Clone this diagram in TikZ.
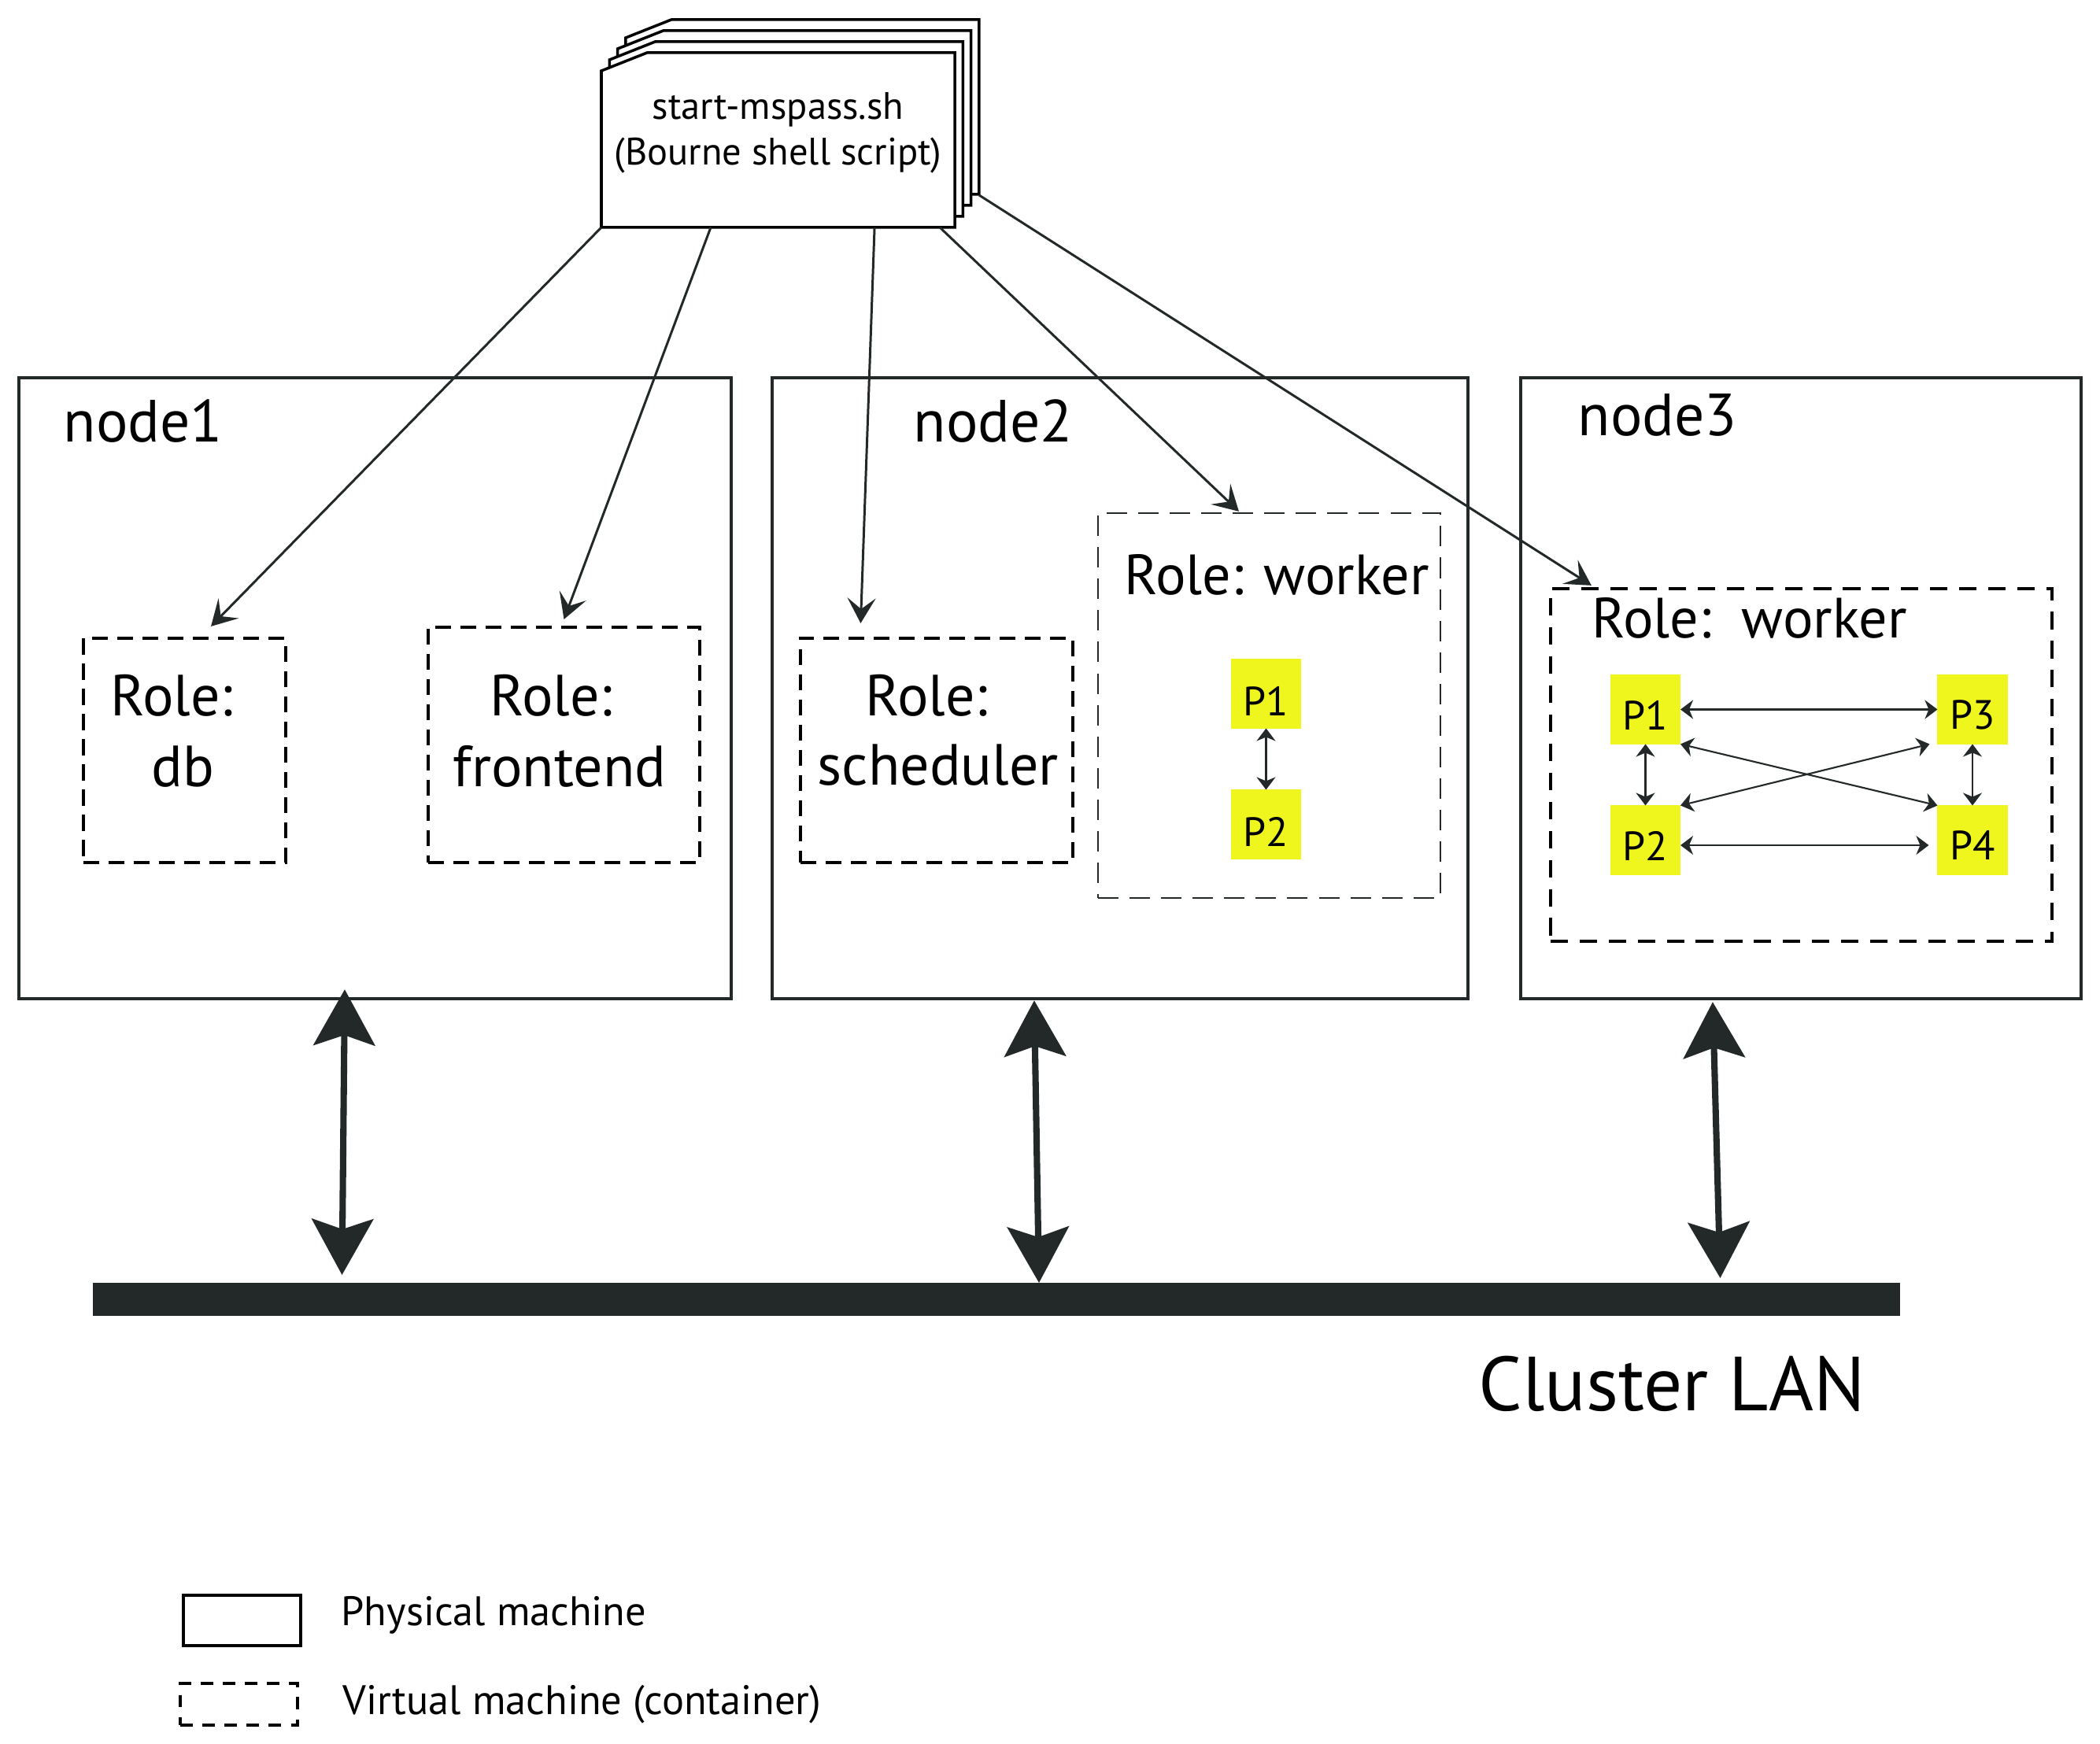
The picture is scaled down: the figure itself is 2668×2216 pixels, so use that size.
\documentclass[tikz,border=0pt]{standalone}
\usepackage{fontspec}
\setmainfont{PT Sans}
\usetikzlibrary{arrows.meta}
\definecolor{ink}{RGB}{35,40,41}
\definecolor{pyel}{RGB}{238,246,29}
\tikzset{
  physbox/.style={draw=ink, line width=1.2pt, inner sep=0pt, outer sep=0pt},
  vbox/.style={draw=black, line width=1.15pt, dash pattern=on 5.7pt off 3.4pt, inner sep=0pt, outer sep=0pt},
  vboxthin/.style={draw=ink, line width=0.75pt, dash pattern=on 7.4pt off 4pt, inner sep=0pt, outer sep=0pt},
  vboxmid/.style={draw=black, line width=1pt, dash pattern=on 6.3pt off 4.2pt, inner sep=0pt, outer sep=0pt},
  page/.style={draw=black, fill=white, line width=1pt, line join=miter},
  pbox/.style={fill=pyel, minimum width=0.89cm, minimum height=0.88cm, inner sep=0pt, outer sep=0pt},
  ptxt/.style={inner sep=0pt, font=\fontsize{14.8pt}{17pt}\selectfont},
  nlbl/.style={anchor=base west, inner sep=0pt, font=\fontsize{21.5pt}{25pt}\selectfont},
  rlbl/.style={anchor=base west, inner sep=0pt, font=\fontsize{21pt}{25pt}\selectfont},
  lgtxt/.style={anchor=base west, inner sep=0pt, font=\fontsize{14.9pt}{18pt}\selectfont},
  sarrow/.style={draw=ink, line width=0.85pt, -{Stealth[length=0.32cm, width=0.36cm, inset=0.14cm]}},
  parrow/.style={draw=ink, line width=0.6pt, {Stealth[length=0.16cm, width=0.24cm, inset=0.05cm]}-{Stealth[length=0.16cm, width=0.24cm, inset=0.05cm]}},
  barrow/.style={draw=ink, line width=2.3pt, {Stealth[length=0.71cm, width=0.78cm, inset=0.13cm]}-{Stealth[length=0.71cm, width=0.78cm, inset=0.13cm]}}
}
\begin{document}
\begin{tikzpicture}[x=0.01cm, y=-0.01cm]
\useasboundingbox (0,0) rectangle (2668,2216);
\fill[white] (0,0) rectangle (2668,2216);

% script stack
\foreach \k in {3,2,1} {
  \draw[page, shift={({10.3*\k},{-14*\k})}] (764,90) -- (822,67) -- (1213,67) -- (1213,289) -- (764,289) -- cycle;
}
\draw[page] (764,90) -- (822,67) -- (1213,67) -- (1213,289) -- (764,289) -- cycle;
\node[minimum width=4.49cm, minimum height=2.22cm, inner sep=0pt, outer sep=0pt] (script) at (988.5,178) {};
\node[align=center, inner sep=0pt, font=\fontsize{13.8pt}{16.5pt}\selectfont] (scripttxt) at (988.5,169) {start-mspass.sh\\(Bourne shell script)};
\coordinate (pg4) at (1244,248);

% physical machines
\node[physbox, minimum width=9.045cm, minimum height=7.89cm] (n1) at (476.75,874.5) {};
\node[physbox, minimum width=8.84cm, minimum height=7.89cm] (n2) at (1423,874.5) {};
\node[physbox, minimum width=7.12cm, minimum height=7.89cm] (n3) at (2288,874.5) {};
\node[nlbl] (t1) at (80,562) {node1};
\node[nlbl] (t2) at (1160,562) {node2};
\node[nlbl] (t3) at (2004,554) {node3};

% containers
\node[vbox, minimum width=2.57cm, minimum height=2.85cm] (db) at (234.5,953.5) {};
\node[vbox, minimum width=3.45cm, minimum height=2.99cm] (fe) at (716.5,946.5) {};
\node[vbox, minimum width=3.46cm, minimum height=2.85cm] (sch) at (1190,953.5) {};
\node[vboxthin, minimum width=4.35cm, minimum height=4.89cm] (w2) at (1612.5,896.5) {};
\node[vboxmid, minimum width=6.37cm, minimum height=4.48cm] (w3) at (2288.5,972) {};

\node[rlbl] (dbr) at (140,910) {Role:};
\node[rlbl] (dbn) at (192,1000) {db};
\node[rlbl] (fer) at (622,910) {Role:};
\node[rlbl] (fen) at (575,1000) {frontend};
\node[rlbl] (schr) at (1099,910) {Role:};
\node[rlbl] (schn) at (1038,998) {scheduler};
\node[rlbl, font=\fontsize{20.5pt}{24pt}\selectfont] (w2r) at (1428,756) {Role: worker};
\node[rlbl, font=\fontsize{20.5pt}{24pt}\selectfont] (w3r) at (2022,811) {Role:\ \ worker};

% processes
\node[pbox] (a1) at (1608.5,881.5) {};
\node[pbox] (a2) at (1608.5,1047.5) {};
\node[pbox] (b1) at (2090.5,901.5) {};
\node[pbox] (b3) at (2506,901.5) {};
\node[pbox] (b2) at (2090.5,1067.5) {};
\node[pbox] (b4) at (2506,1067.5) {};
\node[ptxt] (a1t) at ([yshift=-0.09cm]a1.center) {P1};
\node[ptxt] (a2t) at ([yshift=-0.09cm]a2.center) {P2};
\node[ptxt] (b1t) at ([yshift=-0.07cm]b1.center) {P1};
\node[ptxt] (b3t) at ([yshift=-0.07cm]b3.center) {P3};
\node[ptxt] (b2t) at ([yshift=-0.07cm]b2.center) {P2};
\node[ptxt] (b4t) at ([yshift=-0.07cm]b4.center) {P4};

\draw[parrow] (a1.south) -- (a2.north);
\draw[parrow] (b1.east) -- (b3.west);
\draw[parrow] ([yshift=-0.065cm]b2.east) -- ([yshift=-0.065cm, xshift=-0.11cm]b4.west);
\draw[parrow] (b1.south) -- (b2.north);
\draw[parrow] (b3.south) -- (b4.north);
\draw[parrow] (b1.south east) -- (b4.north west);
\draw[parrow] (b2.north east) -- ([xshift=-0.10cm]b3.south west);

% script arrows
\draw[sarrow] (script.south west) -- ([xshift=0.335cm, yshift=0.15cm]db.north);
\draw[sarrow] ([xshift=1.39cm]script.south west) -- ([yshift=0.10cm]fe.north);
\draw[sarrow] ([xshift=1.225cm]script.south) -- ([xshift=-0.965cm, yshift=0.19cm]sch.north);
\draw[sarrow] ([xshift=-0.19cm]script.south east) -- ([xshift=-0.385cm, yshift=0.02cm]w2.north);
\draw[sarrow] (pg4) -- ([xshift=0.52cm, yshift=0.04cm]w3.north west);

% LAN
\node[fill=ink, minimum width=22.94cm, minimum height=0.42cm, inner sep=0pt, outer sep=0pt] (lan) at (1266,1651) {};
\node[anchor=base west, inner sep=0pt, font=\fontsize{27.7pt}{33pt}\selectfont] (lantxt) at (1878,1793) {Cluster LAN};
\draw[barrow] ([xshift=-0.3875cm, yshift=0.12cm]n1.south) -- ([xshift=-8.31cm, yshift=0.10cm]lan.north);
\draw[barrow] ([xshift=-1.09cm, yshift=-0.02cm]n2.south) -- ([xshift=0.54cm]lan.north);
\draw[barrow] ([xshift=-1.12cm, yshift=-0.04cm]n3.south) -- ([xshift=9.19cm, yshift=0.06cm]lan.north);

% legend
\node[physbox, draw=black, line width=1.3pt, minimum width=1.49cm, minimum height=0.64cm] (lg1) at (307.5,2059) {};
\node[lgtxt] (lg1t) at (433,2066) {Physical machine};
\node[vbox, dash pattern=on 4.5pt off 3.5pt, minimum width=1.49cm, minimum height=0.53cm] (lg2) at (303.5,2165.5) {};
\node[lgtxt] (lg2t) at (435,2178) {Virtual machine (container)};
\end{tikzpicture}
\end{document}
